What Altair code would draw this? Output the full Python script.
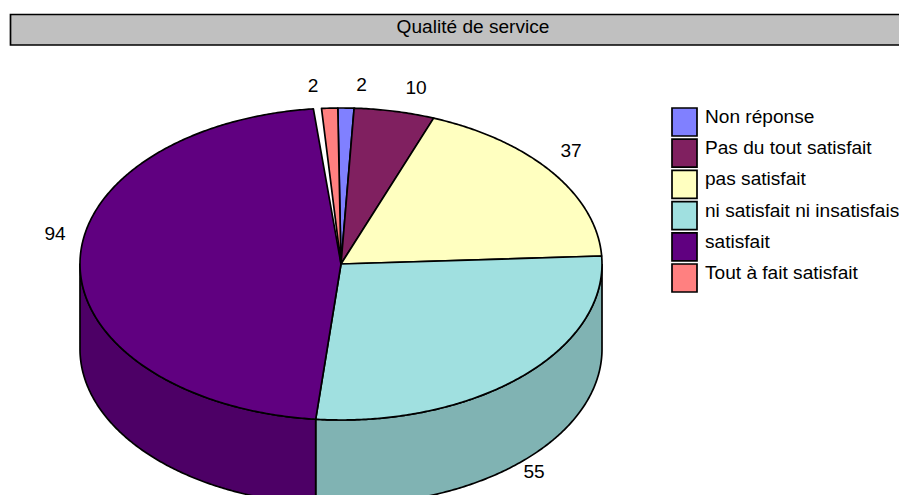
import math

import altair as alt
import pandas as pd

# Survey answers, in the order they run clockwise round the pie.
categories = [
    "Non réponse",
    "Pas du tout satisfait",
    "pas satisfait",
    "ni satisfait ni insatisfais",
    "satisfait",
    "Tout à fait satisfait",
]
counts = [2, 10, 37, 55, 94, 2]
top_colors = ["#8080FF", "#802060", "#FFFFC0", "#A0E0E0", "#600080", "#FF8080"]
wall_colors = ["#6666CC", "#661A4D", "#CCCC99", "#80B3B3", "#4D0066", "#CC6666"]
label_spots = [(361.5, 85), (416, 88), (571, 151), (534, 472), (55, 234), (313, 86)]

# Size of the empty wedge left open just before the last slice, in answer units.
gap_units = 1.0
start_angle = -0.7

W, H = 899, 495
CX, CY, RX, RY, DEPTH = 341, 264, 261, 156, 85
FONT = "Liberation Sans"
TEXT_SIZE = 19.1


def rim(theta, drop=0.0):
    a = math.radians(theta)
    return CX + RX * math.sin(a), CY - RY * math.cos(a) + drop


def arc_angles(a, b):
    steps = max(2, int(abs(b - a)) * 2)
    return [a + (b - a) * i / steps for i in range(steps + 1)]


per_unit = 360 / (sum(counts) + gap_units)
faces, walls = [], []
angle = start_angle
for i, count in enumerate(counts):
    if i == len(counts) - 1:
        angle += gap_units * per_unit
    end = angle + count * per_unit

    outline = [(CX, CY)] + [rim(t) for t in arc_angles(angle, end)] + [(CX, CY)]
    faces += [
        {"slice": i, "seq": k, "px": p[0], "py": p[1], "paint": top_colors[i]}
        for k, p in enumerate(outline)
    ]

    # Only the part of the rim on the near side shows a wall.
    low, high = max(angle, 90), min(end, 270)
    if low < high:
        near = arc_angles(low, high)
        edge = [rim(t) for t in near] + [rim(t, DEPTH) for t in reversed(near)]
        edge.append(edge[0])
        walls += [
            {"slice": i, "seq": k, "px": p[0], "py": p[1], "paint": wall_colors[i]}
            for k, p in enumerate(edge)
        ]
    angle = end

x_scale = alt.Scale(domain=[0, W], range=[0, W], nice=False, zero=False)
y_scale = alt.Scale(domain=[0, H], range=[0, H], nice=False, zero=False)
X = alt.X("px:Q", scale=x_scale, axis=None)
Y = alt.Y("py:Q", scale=y_scale, axis=None)


def shapes(rows):
    return (
        alt.Chart(pd.DataFrame(rows))
        .mark_line(stroke="black", strokeWidth=1.7, strokeJoin="round")
        .encode(
            x=X,
            y=Y,
            fill=alt.Fill("paint:N", scale=None),
            detail="slice:N",
            order="seq:Q",
        )
    )


banner = (
    alt.Chart(pd.DataFrame({"px": [10.5], "px2": [960], "py": [14.5], "py2": [45]}))
    .mark_rect(fill="#C0C0C0", stroke="black", strokeWidth=1.7)
    .encode(x=X, x2="px2:Q", y=Y, y2="py2:Q")
)
banner_text = (
    alt.Chart(pd.DataFrame({"px": [473], "py": [27], "t": ["Qualité de service"]}))
    .mark_text(font=FONT, fontSize=TEXT_SIZE, color="black")
    .encode(x=X, y=Y, text="t:N")
)

value_labels = (
    alt.Chart(
        pd.DataFrame(
            {
                "px": [p[0] for p in label_spots],
                "py": [p[1] for p in label_spots],
                "t": [str(c) for c in counts],
            }
        )
    )
    .mark_text(font=FONT, fontSize=TEXT_SIZE, color="black")
    .encode(x=X, y=Y, text="t:N")
)

legend_rows = pd.DataFrame(
    {
        "px": [672] * len(categories),
        "px2": [697] * len(categories),
        "tx": [705] * len(categories),
        "py": [108 + 31.2 * i for i in range(len(categories))],
        "py2": [136 + 31.2 * i for i in range(len(categories))],
        "ty": [117 + 31.2 * i for i in range(len(categories))],
        "name": categories,
        "paint": top_colors,
    }
)
legend_boxes = (
    alt.Chart(legend_rows)
    .mark_rect(stroke="black", strokeWidth=1.7)
    .encode(x=X, x2="px2:Q", y=Y, y2="py2:Q", fill=alt.Fill("paint:N", scale=None))
)
legend_text = (
    alt.Chart(legend_rows)
    .mark_text(font=FONT, fontSize=TEXT_SIZE, color="black", align="left")
    .encode(x=alt.X("tx:Q", scale=x_scale, axis=None),
            y=alt.Y("ty:Q", scale=y_scale, axis=None),
            text="name:N")
)

chart = (
    alt.layer(
        banner,
        banner_text,
        shapes(walls),
        shapes(faces),
        value_labels,
        legend_boxes,
        legend_text,
    )
    .properties(
        width=W,
        height=H,
        padding=0,
        autosize=alt.AutoSizeParams(type="none"),
        background="white",
    )
    .configure_view(stroke=None)
)

chart.save("out.html", embed_options={"renderer": "svg", "actions": False})
